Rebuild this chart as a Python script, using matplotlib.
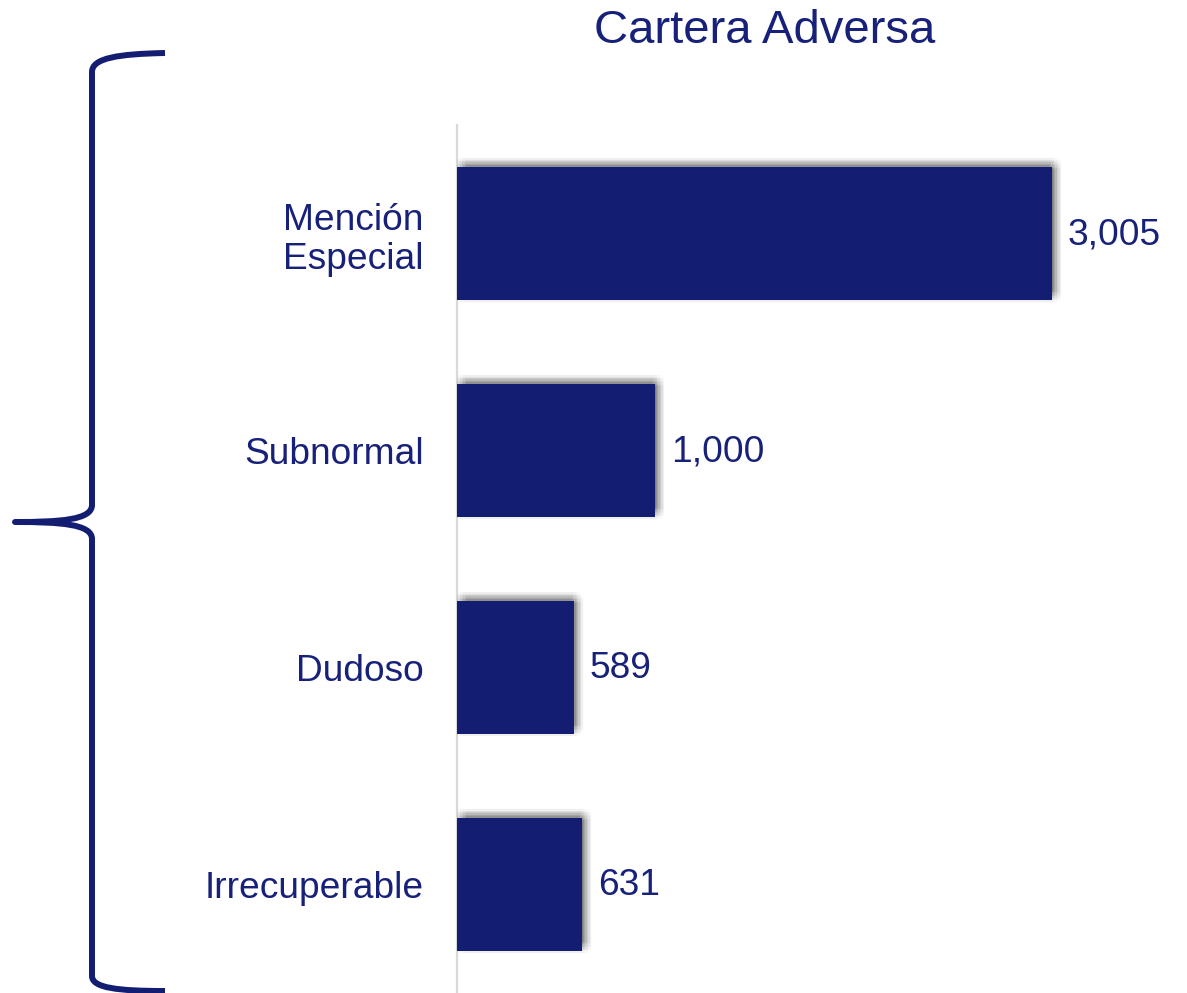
import matplotlib
matplotlib.use("Agg")
import matplotlib.pyplot as plt
from matplotlib.path import Path
from matplotlib.patches import PathPatch
import matplotlib.patheffects as pe

categories = ["Mención\nEspecial", "Subnormal", "Dudoso", "Irrecuperable"]
values = [3005, 1000, 589, 631]
value_labels = ["3,005", "1,000", "589", "631"]
title = "Cartera Adversa"

navy = "#131E73"
text_color = "#17217A"

plt.rcParams['font.family'] = ['Liberation Sans', 'DejaVu Sans']

W, H = 1187, 993
fig = plt.figure(figsize=(W / 100, H / 100), dpi=100)

ax_left, ax_right, ax_top, ax_bottom = 457, 1100, 125, 993
ax = fig.add_axes([ax_left / W, 1 - ax_bottom / H, (ax_right - ax_left) / W, (ax_bottom - ax_top) / H])

y = list(range(len(categories)))

# soft shadow: many faint offset copies around a centre offset (up-right)
shadow_effects = []
cx, cy = 2.5, 2.5
r = 5
for dx in range(-r, r + 1):
    for dy in range(-r, r + 1):
        if dx * dx + dy * dy <= r * r:
            shadow_effects.append(pe.SimplePatchShadow(offset=(cx + dx, cy + dy),
                                                       shadow_rgbFace="black", alpha=0.009))
shadow_effects.append(pe.Normal())

bars = ax.barh(y, values, height=0.61, color=navy, zorder=3, linewidth=0)
for b in bars:
    b.set_path_effects(shadow_effects)

ax.set_ylim(3.5, -0.5)
ax.set_xlim(0, (ax_right - ax_left) / (595 / 3005))
ax.set_yticks(y)
ax.set_yticklabels(categories, fontsize=26.7, color=text_color, linespacing=1.15)
ax.tick_params(axis='y', length=0, pad=24)
ax.set_xticks([])
for s in ["top", "right", "bottom"]:
    ax.spines[s].set_visible(False)
ax.spines["left"].set_color("#d9d9d9")
ax.spines["left"].set_linewidth(1.6)
ax.set_facecolor("none")

for yi, v, lab in zip(y, values, value_labels):
    ax.annotate(lab, (v, yi), xytext=(11.5, -1), textcoords="offset points",
                ha="left", va="center", fontsize=26.7, color=text_color)

fig.text(765 / W, 1 - 31 / H, title, ha="center", va="center", fontsize=34, color=text_color)

# decorative brace
ov = fig.add_axes([0, 0, 1, 1], zorder=-1)
ov.set_xlim(0, W)
ov.set_ylim(H, 0)
ov.axis("off")
verts = [(165, 53), (118, 54), (92, 58), (92, 72),
         (92, 505),
         (92, 520), (60, 522), (15, 522),
         (60, 522), (92, 524), (92, 539),
         (92, 976),
         (92, 988), (118, 991), (165, 991)]
codes = [Path.MOVETO, Path.CURVE4, Path.CURVE4, Path.CURVE4,
         Path.LINETO,
         Path.CURVE4, Path.CURVE4, Path.CURVE4,
         Path.CURVE4, Path.CURVE4, Path.CURVE4,
         Path.LINETO,
         Path.CURVE4, Path.CURVE4, Path.CURVE4]
ov.add_patch(PathPatch(Path(verts, codes), facecolor="none", edgecolor=navy, lw=4.3, capstyle="butt", joinstyle="round"))

fig.savefig("out.png", dpi=100)
